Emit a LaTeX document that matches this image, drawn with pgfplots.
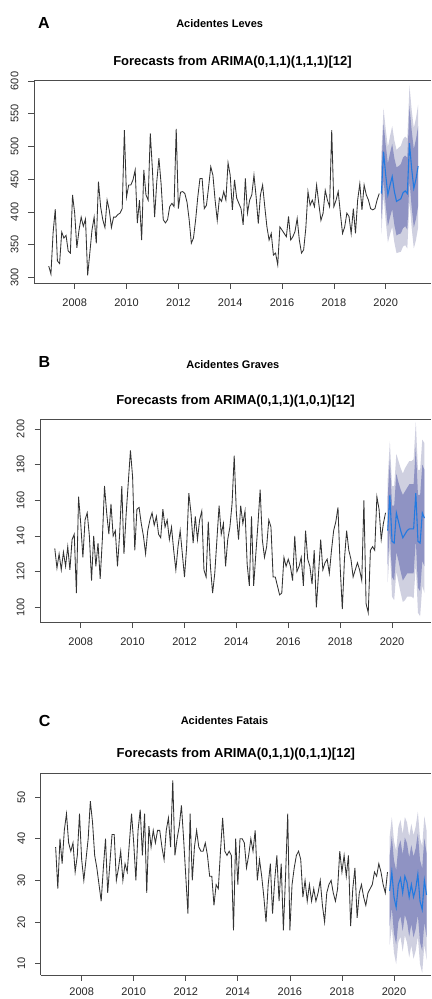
\documentclass[border=0pt]{standalone}
\usepackage{pgfplots}
\pgfplotsset{compat=1.18}
\usepackage{pgfplotstable}
\usepackage{fontspec}
\setmainfont{Liberation Sans}

\definecolor{fcline}{RGB}{34,122,225}
\definecolor{pi80}{RGB}{143,147,195}
\definecolor{pi95}{RGB}{207,208,224}

% observed series, months since Jan 2007
\pgfplotstableread[row sep=\\]{
t v\\
0 317\\ 1 305\\ 2 368\\ 3 404\\ 4 325\\ 5 321\\ 6 369\\ 7 360\\ 8 364\\ 9 340\\ 10 337\\ 11 426\\
12 398\\ 13 345\\ 14 372\\ 15 392\\ 16 378\\ 17 389\\ 18 303\\ 19 337\\ 20 372\\ 21 392\\ 22 352\\ 23 446\\
24 408\\ 25 388\\ 26 376\\ 27 418\\ 28 403\\ 29 376\\ 30 392\\ 31 392\\ 32 396\\ 33 398\\ 34 405\\ 35 525\\
36 423\\ 37 441\\ 38 441\\ 39 449\\ 40 464\\ 41 383\\ 42 418\\ 43 357\\ 44 464\\ 45 426\\ 46 418\\ 47 520\\
48 464\\ 49 392\\ 50 446\\ 51 482\\ 52 443\\ 53 388\\ 54 383\\ 55 388\\ 56 408\\ 57 413\\ 58 408\\ 59 527\\
60 405\\ 61 430\\ 62 431\\ 63 428\\ 64 415\\ 65 388\\ 66 352\\ 67 360\\ 68 388\\ 69 423\\ 70 451\\ 71 451\\
72 405\\ 73 410\\ 74 438\\ 75 469\\ 76 456\\ 77 418\\ 78 387\\ 79 421\\ 80 416\\ 81 431\\ 82 418\\ 83 475\\
84 456\\ 85 403\\ 86 449\\ 87 421\\ 88 413\\ 89 405\\ 90 380\\ 91 451\\ 92 398\\ 93 418\\ 94 426\\ 95 456\\
96 423\\ 97 382\\ 98 426\\ 99 441\\ 100 408\\ 101 377\\ 102 357\\ 103 367\\ 104 334\\ 105 337\\ 106 319\\ 107 377\\
108 372\\ 109 367\\ 110 362\\ 111 393\\ 112 357\\ 113 362\\ 114 370\\ 115 390\\ 116 357\\ 117 337\\ 118 342\\ 119 375\\
120 431\\ 121 410\\ 122 418\\ 123 408\\ 124 441\\ 125 413\\ 126 387\\ 127 398\\ 128 433\\ 129 418\\ 130 408\\ 131 525\\
132 408\\ 133 418\\ 134 431\\ 135 398\\ 136 367\\ 137 377\\ 138 398\\ 139 393\\ 140 367\\ 141 405\\ 142 367\\ 143 418\\
144 443\\ 145 403\\ 146 441\\ 147 426\\ 148 418\\ 149 405\\ 150 403\\ 151 405\\ 152 418\\ 153 428\\
}\obsA

\pgfplotstableread[row sep=\\]{
t v\\
0 133\\ 1 122\\ 2 130\\ 3 121\\ 4 131\\ 5 123\\ 6 134\\ 7 121\\ 8 138\\ 9 141\\ 10 108\\ 11 162\\
12 147\\ 13 128\\ 14 149\\ 15 153\\ 16 140\\ 17 115\\ 18 140\\ 19 123\\ 20 136\\ 21 116\\ 22 138\\ 23 168\\
24 153\\ 25 141\\ 26 158\\ 27 140\\ 28 143\\ 29 123\\ 30 141\\ 31 168\\ 32 130\\ 33 152\\ 34 170\\ 35 188\\
36 173\\ 37 132\\ 38 155\\ 39 156\\ 40 147\\ 41 140\\ 42 130\\ 43 143\\ 44 149\\ 45 153\\ 46 146\\ 47 151\\
48 141\\ 49 139\\ 50 155\\ 51 145\\ 52 149\\ 53 138\\ 54 145\\ 55 132\\ 56 121\\ 57 134\\ 58 143\\ 59 130\\
60 117\\ 61 134\\ 62 164\\ 63 153\\ 64 136\\ 65 151\\ 66 138\\ 67 149\\ 68 154\\ 69 121\\ 70 117\\ 71 148\\
72 123\\ 73 108\\ 74 119\\ 75 138\\ 76 157\\ 77 141\\ 78 147\\ 79 123\\ 80 138\\ 81 145\\ 82 158\\ 83 185\\
84 153\\ 85 138\\ 86 157\\ 87 147\\ 88 154\\ 89 124\\ 90 112\\ 91 151\\ 92 112\\ 93 130\\ 94 147\\ 95 166\\
96 138\\ 97 128\\ 98 134\\ 99 149\\ 100 145\\ 101 117\\ 102 117\\ 103 112\\ 104 107\\ 105 108\\ 106 128\\ 107 123\\
108 127\\ 109 123\\ 110 115\\ 111 140\\ 112 120\\ 113 123\\ 114 128\\ 115 112\\ 116 143\\ 117 127\\ 118 123\\ 119 113\\
120 132\\ 121 100\\ 122 119\\ 123 138\\ 124 121\\ 125 125\\ 126 127\\ 127 119\\ 128 132\\ 129 143\\ 130 148\\ 131 156\\
132 123\\ 133 99\\ 134 127\\ 135 143\\ 136 132\\ 137 127\\ 138 117\\ 139 121\\ 140 125\\ 141 121\\ 142 115\\ 143 160\\
144 102\\ 145 97\\ 146 132\\ 147 134\\ 148 132\\ 149 162\\ 150 155\\ 151 138\\ 152 147\\ 153 153\\
}\obsB

\pgfplotstableread[row sep=\\]{
t v\\
0 38\\ 1 28\\ 2 40\\ 3 34\\ 4 42\\ 5 46\\ 6 39\\ 7 37\\ 8 39\\ 9 32\\ 10 36\\ 11 46\\
12 35\\ 13 30\\ 14 35\\ 15 40\\ 16 49\\ 17 44\\ 18 36\\ 19 33\\ 20 29\\ 21 25\\ 22 33\\ 23 40\\
24 27\\ 25 34\\ 26 41\\ 27 41\\ 28 30\\ 29 33\\ 30 37\\ 31 30\\ 32 34\\ 33 32\\ 34 39\\ 35 46\\
36 39\\ 37 30\\ 38 42\\ 39 47\\ 40 36\\ 41 46\\ 42 27\\ 43 43\\ 44 38\\ 45 42\\ 46 39\\ 47 42\\
48 42\\ 49 38\\ 50 35\\ 51 42\\ 52 45\\ 53 38\\ 54 54\\ 55 36\\ 56 40\\ 57 43\\ 58 48\\ 59 40\\
60 31\\ 61 22\\ 62 46\\ 63 30\\ 64 38\\ 65 42\\ 66 38\\ 67 37\\ 68 37\\ 69 39\\ 70 36\\ 71 31\\
72 31\\ 73 24\\ 74 29\\ 75 28\\ 76 37\\ 77 45\\ 78 37\\ 79 36\\ 80 37\\ 81 36\\ 82 18\\ 83 40\\
84 29\\ 85 40\\ 86 40\\ 87 39\\ 88 33\\ 89 36\\ 90 40\\ 91 37\\ 92 42\\ 93 30\\ 94 35\\ 95 31\\
96 26\\ 97 20\\ 98 29\\ 99 34\\ 100 22\\ 101 30\\ 102 36\\ 103 25\\ 104 34\\ 105 18\\ 106 31\\ 107 46\\
108 18\\ 109 29\\ 110 33\\ 111 36\\ 112 37\\ 113 35\\ 114 26\\ 115 30\\ 116 25\\ 117 29\\ 118 25\\ 119 28\\
120 25\\ 121 27\\ 122 30\\ 123 24\\ 124 20\\ 125 27\\ 126 29\\ 127 30\\ 128 27\\ 129 25\\ 130 28\\ 131 37\\
132 32\\ 133 36\\ 134 31\\ 135 36\\ 136 19\\ 137 28\\ 138 33\\ 139 21\\ 140 27\\ 141 29\\ 142 26\\ 143 24\\
144 27\\ 145 28\\ 146 29\\ 147 32\\ 148 31\\ 149 34\\ 150 32\\ 151 29\\ 152 27\\ 153 32\\
}\obsC

% point forecasts
\pgfplotstableread[row sep=\\]{
t f\\
154 428\\ 155 492\\ 156 456\\ 157 426\\ 158 441\\ 159 454\\ 160 431\\ 161 416\\ 162 418\\
163 420\\ 164 429\\ 165 432\\ 166 428\\ 167 505\\ 168 466\\ 169 436\\ 170 450\\ 171 470\\
}\fcA
\pgfplotstableread[row sep=\\]{
t f\\
154 143\\ 155 163\\ 156 137\\ 157 136\\ 158 153\\ 159 148\\ 160 143\\ 161 139\\ 162 141\\
163 143\\ 164 144\\ 165 144\\ 166 144\\ 167 164\\ 168 137\\ 169 136\\ 170 153\\ 171 150\\
}\fcB
\pgfplotstableread[row sep=\\]{
t f\\
154 27.5\\ 155 32.0\\ 156 26.0\\ 157 23.5\\ 158 29.0\\ 159 30.5\\ 160 27.0\\ 161 31.0\\ 162 29.5\\
163 26.0\\ 164 29.0\\ 165 26.0\\ 166 28.0\\ 167 31.5\\ 168 25.0\\ 169 23.0\\ 170 30.0\\ 171 26.5\\
}\fcC

\tikzset{topline/.style={black!70, line width=0.7pt}}

\pgfplotsset{
  arima/.style={
    scale only axis, anchor=south west,
    xmin=-6.84,
    axis x line*=bottom, axis y line*=left,
    axis line style={-, black!70, line width=0.7pt},
    tick style={black!70, line width=0.7pt},
    tick align=outside, major tick length=5.5pt,
    xtick={12,36,60,84,108,132,156},
    xticklabels={2008,2010,2012,2014,2016,2018,2020},
    ticklabel style={font=\fontsize{11}{13}\selectfont, text=black!85, inner sep=0pt},
    /pgf/number format/assume math mode=true,
    xticklabel style={anchor=center, yshift=-14pt},
    yticklabel style={rotate=90, anchor=center, yshift=14pt},
    title style={at={(0.5,1)}, anchor=center, yshift=12.6pt,
      font=\bfseries\fontsize{13}{15}\selectfont},
  },
  band95/.style={fill=pi95, draw=none},
  band80/.style={fill=pi80, draw=none},
  obs/.style={black!80, line width=0.85pt},
  fcst/.style={fcline, line width=1.1pt},
}

\begin{document}
\begin{tikzpicture}
  \path (0pt,0pt) rectangle (431pt,999pt);

  % A
  \node[font=\bfseries\fontsize{16}{18}\selectfont] at (44pt,976.3pt) {A};
  \node[font=\bfseries\fontsize{11}{13}\selectfont] at (219.7pt,975.7pt) {Acidentes Leves};
  \begin{axis}[arima, at={(34pt,715.7pt)}, width=397pt, height=203pt,
      xmax=176.96, ymin=290.8, ymax=601.1, ytick={300,350,...,600},
      title={Forecasts from ARIMA(0,1,1)(1,1,1)[12]}]
    \addplot[band95] coordinates {(154,490) (155,558) (156,526) (157,499) (158,516) (159,531)
      (160,509) (161,495) (162,498) (163,501) (164,511) (165,515) (166,512) (167,593) (168,556)
      (169,528) (170,543) (171,564) (171,376) (170,357) (169,344) (168,376) (167,417) (166,344)
      (165,349) (164,347) (163,339) (162,338) (161,337) (160,353) (159,377) (158,366) (157,353)
      (156,386) (155,426) (154,366)} -- cycle;
    \addplot[band80] coordinates {(154,468) (155,535) (156,502) (157,474) (158,490) (159,504)
      (160,482) (161,468) (162,470) (163,473) (164,483) (165,486) (166,483) (167,562) (168,525)
      (169,496) (170,511) (171,531) (171,409) (170,389) (169,376) (168,407) (167,448) (166,373)
      (165,378) (164,375) (163,367) (162,366) (161,364) (160,380) (159,404) (158,392) (157,378)
      (156,410) (155,449) (154,388)} -- cycle;
    \addplot[fcst] table[x=t, y=f] {\fcA};
    \addplot[obs] table[x=t, y=v] {\obsA};
    \draw[topline] (rel axis cs:0,1) -- (rel axis cs:1,1);
  \end{axis}

  % B
  \node[font=\bfseries\fontsize{16}{18}\selectfont] at (44.3pt,637.3pt) {B};
  \node[font=\bfseries\fontsize{11}{13}\selectfont] at (232.8pt,634.7pt) {Acidentes Graves};
  \begin{axis}[arima, at={(40pt,376.3pt)}, width=391pt, height=203.4pt,
      xmax=174.03, ymin=91.4, ymax=205.4, ytick={100,120,...,200},
      title={Forecasts from ARIMA(0,1,1)(1,0,1)[12]}]
    \addplot[band95] coordinates {(154,172) (155,193) (156,168) (157,168) (158,186) (159,182)
      (160,178) (161,175) (162,178) (163,180) (164,182) (165,182) (166,183) (167,204) (168,177)
      (169,177) (170,194) (171,192) (171,108) (170,112) (169,95) (168,97) (167,124) (166,105)
      (165,106) (164,106) (163,106) (162,104) (161,103) (160,108) (159,114) (158,120) (157,104)
      (156,106) (155,133) (154,114)} -- cycle;
    \addplot[band80] coordinates {(154,162) (155,183) (156,157) (157,157) (158,175) (159,170)
      (160,166) (161,163) (162,165) (163,167) (164,169) (165,169) (166,169) (167,190) (168,163)
      (169,163) (170,180) (171,177) (171,123) (170,126) (169,109) (168,111) (167,138) (166,119)
      (165,119) (164,119) (163,119) (162,117) (161,115) (160,120) (159,126) (158,131) (157,115)
      (156,117) (155,143) (154,124)} -- cycle;
    \addplot[fcst] table[x=t, y=f] {\fcB};
    \addplot[obs] table[x=t, y=v] {\obsB};
    \draw[topline] (rel axis cs:0,1) -- (rel axis cs:1,1);
  \end{axis}

  % C
  \node[font=\bfseries\fontsize{16}{18}\selectfont] at (44.7pt,278pt) {C};
  \node[font=\bfseries\fontsize{11}{13}\selectfont] at (224.5pt,278.3pt) {Acidentes Fatais};
  \begin{axis}[arima, at={(40.8pt,24pt)}, width=390.2pt, height=201.7pt,
      xmax=173.06, ymin=7.29, ymax=55.7, ytick={10,20,...,50},
      xticklabel style={yshift=2.5pt},
      title style={yshift=0.7pt},
      title={Forecasts from ARIMA(0,1,1)(0,1,1)[12]}]
    \addplot[band95] coordinates {(154,40.5) (155,45.2) (156,39.4) (157,37.1) (158,42.8) (159,44.5)
      (160,41.1) (161,45.2) (162,43.9) (163,40.5) (164,43.6) (165,40.8) (166,42.9) (167,46.5)
      (168,40.1) (169,38.2) (170,45.4) (171,42.0) (171,11.0) (170,14.6) (169,7.8) (168,9.9)
      (167,16.5) (166,13.1) (165,11.2) (164,14.4) (163,11.5) (162,15.1) (161,16.8) (160,12.9)
      (159,16.5) (158,15.2) (157,9.9) (156,12.6) (155,18.8) (154,14.5)} -- cycle;
    \addplot[band80] coordinates {(154,36.0) (155,40.6) (156,34.8) (157,32.4) (158,38.0) (159,39.6)
      (160,36.2) (161,40.3) (162,38.9) (163,35.5) (164,38.5) (165,35.7) (166,37.7) (167,41.3)
      (168,34.9) (169,32.9) (170,40.1) (171,36.6) (171,16.4) (170,19.9) (169,13.1) (168,15.1)
      (167,21.7) (166,18.3) (165,16.3) (164,19.5) (163,16.5) (162,20.1) (161,21.7) (160,17.8)
      (159,21.4) (158,20.0) (157,14.6) (156,17.2) (155,23.4) (154,19.0)} -- cycle;
    \addplot[fcst] table[x=t, y=f] {\fcC};
    \addplot[obs] table[x=t, y=v] {\obsC};
    \draw[topline] (rel axis cs:0,1) -- (rel axis cs:1,1);
  \end{axis}
\end{tikzpicture}
\end{document}
